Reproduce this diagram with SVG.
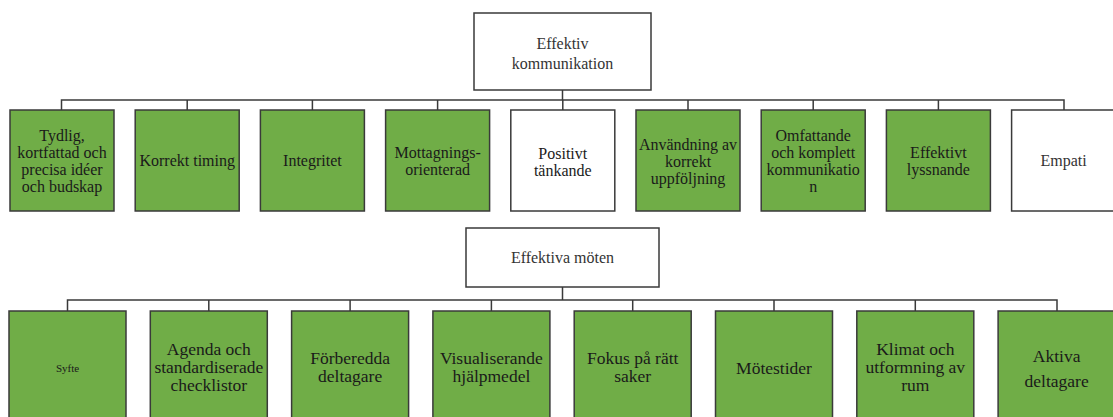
<svg xmlns="http://www.w3.org/2000/svg" width="1113" height="417" viewBox="0 0 1113 417">
<style>
.g{fill:#70ad47;stroke:#3a3a3a;stroke-width:1.5}
.w{fill:#fff;stroke:#3a3a3a;stroke-width:1.5}
.t{font-family:"Liberation Serif","Times New Roman",serif;font-size:16px;fill:#1a1a1a;text-anchor:middle}
.b{font-size:17.5px}
.r{fill:#333}
.c{fill:none;stroke:#3a3a3a;stroke-width:1.5}
</style>
<rect width="1113" height="417" fill="#fff"/>
<g id="connectors">
<path class="c" d="M562.5 90V100M61.5 110V100H1064V110M187.2 100V110M312.4 100V110M437.6 100V110M562.8 100V110M688 100V110M813.2 100V110M938.4 100V110"/>
<path class="c" d="M562.5 287V300M67.5 311V300H1057V311M208.8 300V311M350.1 300V311M491.4 300V311M632.7 300V311M774 300V311M915.3 300V311"/>
</g>
<g id="root1"><rect class="w" x="474" y="13" width="177" height="77"/><text class="t r"><tspan x="562.5" y="48.6">Effektiv</tspan><tspan x="562.5" y="68.6">kommunikation</tspan></text></g>
<g id="n1"><rect class="g" x="10" y="110" width="104" height="101"/><text class="t"><tspan x="62" y="140.6">Tydlig,</tspan><tspan x="62" y="157.6">kortfattad och</tspan><tspan x="62" y="174.6">precisa idéer</tspan><tspan x="62" y="191.6">och budskap</tspan></text></g>
<g id="n2"><rect class="g" x="135.2" y="110" width="104" height="101"/><text class="t" x="187.2" y="166.4">Korrekt timing</text></g>
<g id="n3"><rect class="g" x="260.4" y="110" width="104" height="101"/><text class="t" x="312.4" y="166.4">Integritet</text></g>
<g id="n4"><rect class="g" x="385.6" y="110" width="104" height="101"/><text class="t"><tspan x="437.6" y="157.6">Mottagnings-</tspan><tspan x="437.6" y="174.6">orienterad</tspan></text></g>
<g id="n5"><rect class="w" x="510.8" y="110" width="104" height="101"/><text class="t"><tspan x="562.8" y="158.6">Positivt</tspan><tspan x="562.8" y="175.6">tänkande</tspan></text></g>
<g id="n6"><rect class="g" x="636" y="110" width="104" height="101"/><text class="t"><tspan x="688" y="149.6">Användning av</tspan><tspan x="688" y="166.6">korrekt</tspan><tspan x="688" y="183.6">uppföljning</tspan></text></g>
<g id="n7"><rect class="g" x="761.2" y="110" width="104" height="101"/><text class="t"><tspan x="813.2" y="140.6">Omfattande</tspan><tspan x="813.2" y="157.6">och komplett</tspan><tspan x="813.2" y="174.6">kommunikatio</tspan><tspan x="813.2" y="191.6">n</tspan></text></g>
<g id="n8"><rect class="g" x="886.4" y="110" width="104" height="101"/><text class="t"><tspan x="938.4" y="157.6">Effektivt</tspan><tspan x="938.4" y="174.6">lyssnande</tspan></text></g>
<g id="n9"><rect class="w" x="1011.6" y="110" width="104" height="101"/><text class="t r" x="1063.6" y="166.4">Empati</text></g>
<g id="root2"><rect class="w" x="466" y="228" width="193" height="59"/><text class="t r" x="562.5" y="262.6">Effektiva möten</text></g>
<g id="m1"><rect class="g" x="9" y="311" width="117" height="115"/><text class="t" style="font-size:11px" x="67.5" y="371.8">Syfte</text></g>
<g id="m2"><rect class="g" x="150.3" y="311" width="117" height="115"/><text class="t b"><tspan x="208.8" y="355">Agenda och</tspan><tspan x="208.8" y="373">standardiserade</tspan><tspan x="208.8" y="391">checklistor</tspan></text></g>
<g id="m3"><rect class="g" x="291.6" y="311" width="117" height="115"/><text class="t b"><tspan x="350.1" y="364">Förberedda</tspan><tspan x="350.1" y="382">deltagare</tspan></text></g>
<g id="m4"><rect class="g" x="432.9" y="311" width="117" height="115"/><text class="t b"><tspan x="491.4" y="364">Visualiserande</tspan><tspan x="491.4" y="382">hjälpmedel</tspan></text></g>
<g id="m5"><rect class="g" x="574.2" y="311" width="117" height="115"/><text class="t b"><tspan x="632.7" y="364">Fokus på rätt</tspan><tspan x="632.7" y="382">saker</tspan></text></g>
<g id="m6"><rect class="g" x="715.5" y="311" width="117" height="115"/><text class="t b" x="774" y="374">Mötestider</text></g>
<g id="m7"><rect class="g" x="856.8" y="311" width="117" height="115"/><text class="t b"><tspan x="915.3" y="355">Klimat och</tspan><tspan x="915.3" y="373">utformning av</tspan><tspan x="915.3" y="391">rum</tspan></text></g>
<g id="m8"><rect class="g" x="998.1" y="311" width="117" height="115"/><text class="t b"><tspan x="1056.6" y="362">Aktiva</tspan><tspan x="1056.6" y="387">deltagare</tspan></text></g>
</svg>
